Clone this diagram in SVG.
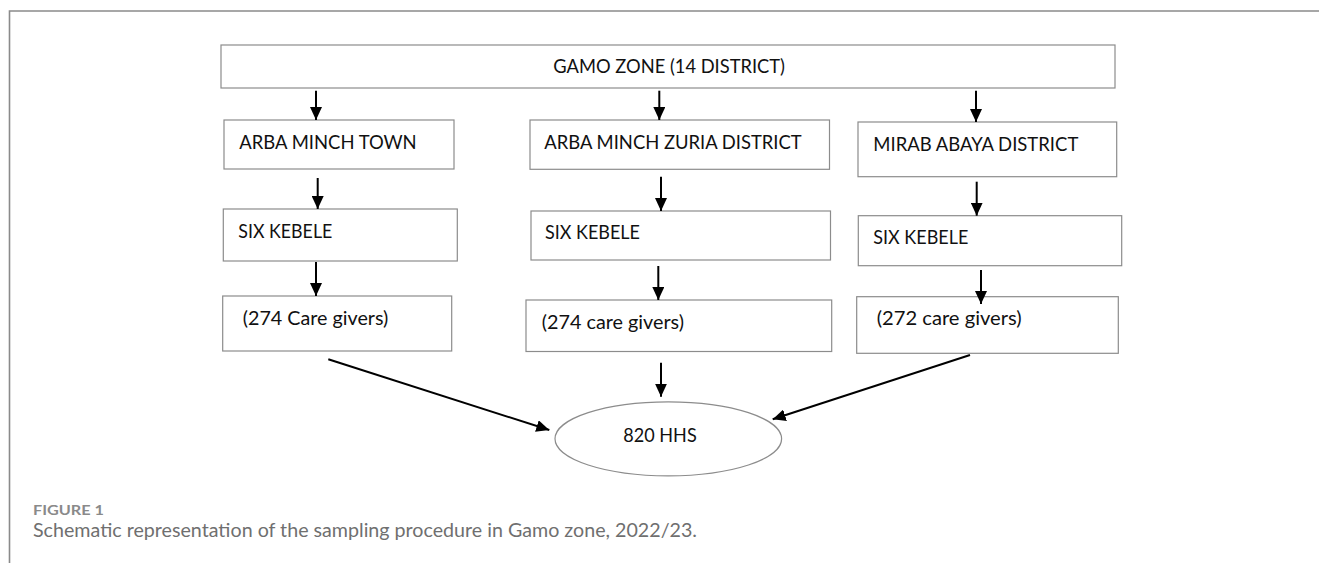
<svg xmlns="http://www.w3.org/2000/svg" width="1319" height="563" viewBox="0 0 1319 563">
<style>
.box{fill:#fff;stroke:#8c8c8c;stroke-width:1.2}
.t{font-family:Lato,"Open Sans","Liberation Sans",sans-serif;font-size:18.5px;fill:#111}
.c{stroke:#000;stroke-width:2;fill:none;marker-end:url(#ah)}
.frame{stroke:#8a8a8a;stroke-width:1.6;fill:none}
.fig{font-family:Lato,"Open Sans","Liberation Sans",sans-serif;font-size:14px;font-weight:bold;fill:#8a8a8a}
.cap{font-family:Lato,"Open Sans","Liberation Sans",sans-serif;font-size:18.5px;fill:#6f6f6f}
</style>
<defs>
<marker id="ah" markerUnits="userSpaceOnUse" markerWidth="14" markerHeight="12" refX="13" refY="6" orient="auto">
<path d="M0,0 L13,6 L0,12 Z" fill="#000"/>
</marker>
</defs>
<path class="frame" d="M9.5,563 V11 H1319"/>
<g id="gamo"><rect class="box" x="221" y="45" width="894" height="43"/><text class="t" x="553.3" y="73.3" textLength="231.7" lengthAdjust="spacingAndGlyphs">GAMO ZONE (14 DISTRICT)</text></g>
<g id="town"><rect class="box" x="224" y="120" width="230" height="49"/><text class="t" x="239.3" y="149.3" textLength="177.4" lengthAdjust="spacingAndGlyphs">ARBA MINCH TOWN</text></g>
<g id="zuria"><rect class="box" x="530" y="120" width="299.5" height="49.3"/><text class="t" x="544.3" y="149.3" textLength="257.4" lengthAdjust="spacingAndGlyphs">ARBA MINCH ZURIA DISTRICT</text></g>
<g id="mirab"><rect class="box" x="858" y="122" width="258.7" height="54.7"/><text class="t" x="873.3" y="151" textLength="205" lengthAdjust="spacingAndGlyphs">MIRAB ABAYA DISTRICT</text></g>
<g id="kebele1"><rect class="box" x="223.3" y="209" width="234" height="52"/><text class="t" x="238.3" y="238.3" textLength="94" lengthAdjust="spacingAndGlyphs">SIX KEBELE</text></g>
<g id="kebele2"><rect class="box" x="531" y="211" width="299.5" height="49"/><text class="t" x="545" y="239.3" textLength="95" lengthAdjust="spacingAndGlyphs">SIX KEBELE</text></g>
<g id="kebele3"><rect class="box" x="858.3" y="215.7" width="263.4" height="50"/><text class="t" x="873.3" y="244" textLength="95" lengthAdjust="spacingAndGlyphs">SIX KEBELE</text></g>
<g id="care1"><rect class="box" x="222.7" y="296" width="229" height="55"/><text class="t" x="242.7" y="325" textLength="145.6" lengthAdjust="spacingAndGlyphs">(274 Care givers)</text></g>
<g id="care2"><rect class="box" x="526" y="300" width="305.7" height="51.5"/><text class="t" x="541.7" y="329" textLength="142.3" lengthAdjust="spacingAndGlyphs">(274 care givers)</text></g>
<g id="care3"><rect class="box" x="856.7" y="296.7" width="261.6" height="56.6"/><text class="t" x="876.7" y="325" textLength="145" lengthAdjust="spacingAndGlyphs">(272 care givers)</text></g>
<g id="hhs"><ellipse cx="668.3" cy="438.8" rx="113.3" ry="37" fill="#fff" stroke="#8c8c8c" stroke-width="1.2"/><text class="t" x="623.3" y="441.7" textLength="73.4" lengthAdjust="spacingAndGlyphs">820 HHS</text></g>
<g id="connectors">
<line class="c" x1="316" y1="90.7" x2="316" y2="120"/>
<line class="c" x1="659.3" y1="90.7" x2="659.3" y2="120"/>
<line class="c" x1="976" y1="90.7" x2="976" y2="122"/>
<line class="c" x1="317.7" y1="178" x2="317.7" y2="209"/>
<line class="c" x1="661" y1="176.7" x2="661" y2="211"/>
<line class="c" x1="976.7" y1="181.7" x2="976.7" y2="215.7"/>
<line class="c" x1="316" y1="262" x2="316" y2="296"/>
<line class="c" x1="658.3" y1="266" x2="658.3" y2="300"/>
<line class="c" x1="981" y1="270" x2="981" y2="304"/>
<line class="c" x1="661" y1="362.7" x2="661" y2="396.7"/>
<line class="c" x1="328.3" y1="359.3" x2="549.3" y2="430"/>
<line class="c" x1="970" y1="355" x2="772.7" y2="419.3"/>
</g>
<text class="fig" x="33" y="515" textLength="71" lengthAdjust="spacingAndGlyphs">FIGURE 1</text>
<text class="cap" x="33" y="537" textLength="664" lengthAdjust="spacingAndGlyphs">Schematic representation of the sampling procedure in Gamo zone, 2022/23.</text>
</svg>
